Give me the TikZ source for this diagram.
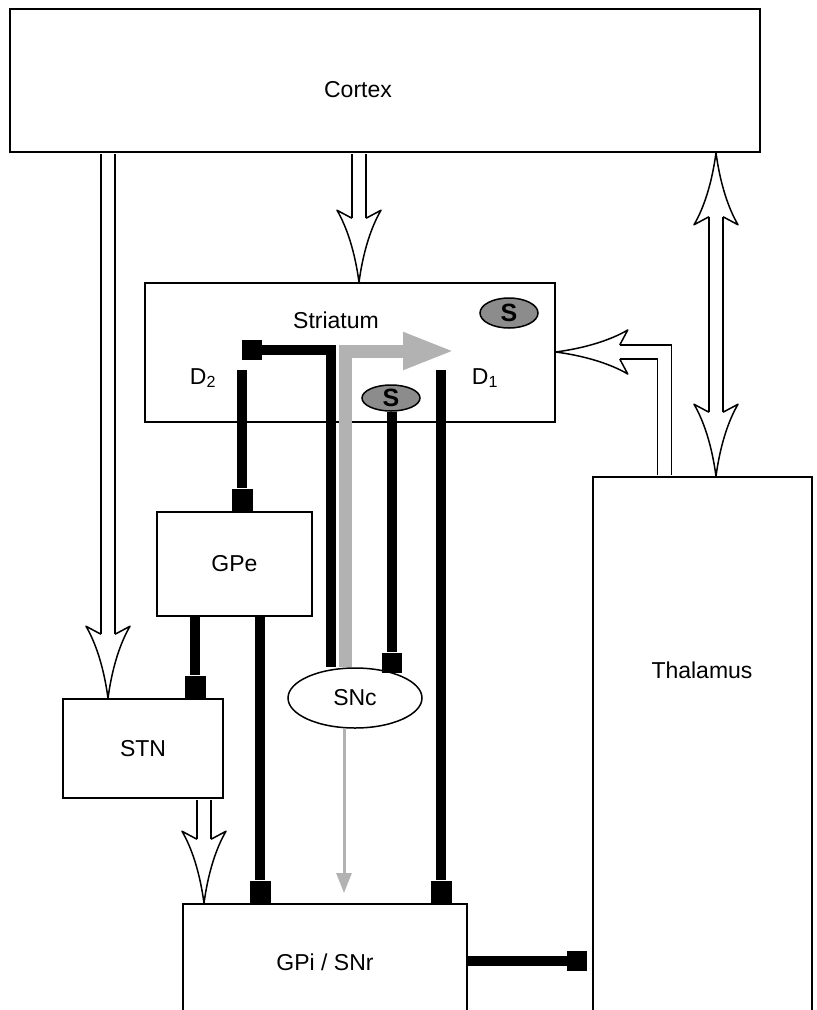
\documentclass[tikz,border=0pt]{standalone}
\usepackage{fontspec}
\setmainfont{Liberation Sans}
\usetikzlibrary{shapes.geometric,arrows.meta}

\begin{document}
\begin{tikzpicture}[x=1pt,y=-1pt,line width=1.5pt]
  \tikzstyle{box}=[draw,inner sep=0pt,font=\fontsize{23}{27}\selectfont]
  \tikzstyle{lbl}=[inner sep=0pt,font=\fontsize{23}{27}\selectfont]
  \tikzstyle{syn}=[draw,ellipse,fill=black!45,inner sep=0pt,minimum width=58pt,
    font=\fontsize{25}{30}\selectfont\bfseries]
  \tikzstyle{term}=[fill,inner sep=0pt,minimum width=21pt,minimum height=22pt]
  \tikzstyle{bar}=[line width=9.5pt]
  \tikzstyle{hollow}=[draw,line width=1.5pt,double=white,double distance=12.5pt,
    shorten <=1pt,shorten >=64pt]
  \tikzstyle{dopa}=[draw=black!30,line width=13pt]
  \tikzset{hhead/.pic={
    \fill[white] (0,0) .. controls (-30,4) and (-55,12) .. (-72,22) -- (-64,7)
      -- (-64,-7) -- (-72,-22) .. controls (-55,-12) and (-30,-4) .. (0,0) -- cycle;
    \draw[line join=round] (-64,7) -- (-72,22) .. controls (-55,12) and (-30,4) .. (0,0)
      .. controls (-30,-4) and (-55,-12) .. (-72,-22) -- (-64,-7);
  }}
  \useasboundingbox (0,0) rectangle (817,1010);
  \clip (0,0) rectangle (817,1010);

  % boxes
  \node[box,minimum width=750pt,minimum height=143pt] (cortex) at (385,80.5) {};
  \node[lbl] (cortexlbl) at (358,90) {Cortex};
  \node[box,minimum width=410pt,minimum height=139pt] (striatum) at (350,352.5) {};
  \node[lbl] (striatumlbl) at (336,320) {Striatum};
  \node[lbl] (d2lbl) at (203,378) {D\textsubscript{2}};
  \node[lbl] (d1lbl) at (485,378) {D\textsubscript{1}};
  \node[syn,minimum height=30pt] (s1) at (509,313) {S};
  \node[syn,minimum height=26pt] (s2) at (391,398) {S};
  \node[box,minimum width=155pt,minimum height=104pt] (gpe) at (234.5,564) {GPe};
  \node[box,minimum width=160pt,minimum height=99pt] (stn) at (143,748.5) {STN};
  \node[box,ellipse,minimum width=134pt,minimum height=60pt] (snc) at (355,698) {SNc};
  \node[box,minimum width=284pt,minimum height=116pt] (gpi) at (325,962) {GPi / SNr};
  \node[box,minimum width=219pt,minimum height=543pt] (thal) at (702.5,748.5) {};
  \node[lbl] (thallbl) at (702,670) {Thalamus};

  % dopamine
  \coordinate (datip) at (455,351);
  \coordinate (dbtip) at (344,893);
  \draw[dopa,line join=miter,-{Triangle[length=52pt,width=34pt]}]
    ([xshift=-10]snc.north) |- (datip);
  \draw[draw=black!30,line width=3pt,-{Triangle[length=20pt,width=15pt]}]
    ([xshift=-11]snc.south) -- (dbtip);

  % inhibitory
  \coordinate (d2end) at (242,370);
  \coordinate (d1end) at (441,370);
  \node[term,anchor=south] (tgpe) at ([xshift=7.5]gpe.north) {};
  \node[term,anchor=south] (tstn) at ([xshift=52]stn.north) {};
  \node[term,anchor=south] (tgpi1) at ([xshift=-65]gpi.north) {};
  \node[term,anchor=south] (tgpi2) at ([xshift=116]gpi.north) {};
  \node[term,minimum height=20pt,minimum width=20pt] (tstr) at (252,350) {};
  \node[term,anchor=south,minimum width=20pt,minimum height=20pt] (tsnc)
    at ([xshift=37,yshift=-6]snc.north) {};
  \node[term,anchor=east,minimum width=20pt,minimum height=20pt] (tthal) at (588,961) {};
  \draw[bar] (tgpe.north) -- (d2end);
  \draw[bar] (tstn.north) -- (tstn.north |- gpe.south);
  \draw[bar] (tgpi1.north) -- (tgpi1.north |- gpe.south);
  \draw[bar] (tgpi2.north) -- (d1end);
  \draw[bar,line join=miter] (tstr.center) -| ([xshift=-24]snc.north);
  \draw[bar] (tsnc.north) -- (tsnc.north |- s2.south);
  \draw[bar] (gpi.east |- tthal) -- (tthal);

  % excitatory
  \coordinate (stnin) at ([xshift=-35]stn.north);
  \coordinate (strin) at ([xshift=9]striatum.north);
  \coordinate (thin) at ([xshift=13.5]thal.north);
  \coordinate (thout) at ([xshift=-38]thal.north);
  \coordinate (strin2) at ([yshift=0.5]striatum.east);
  \coordinate (gpiin) at ([xshift=-121]gpi.north);
  \draw[hollow] (cortex.south -| stnin) -- (stnin);
  \pic[rotate=-90] at (stnin) {hhead};
  \draw[hollow] (cortex.south -| strin) -- (strin);
  \pic[rotate=-90] at (strin) {hhead};
  \draw[hollow,shorten <=64pt] (cortex.south -| thin) -- (thin);
  \pic[rotate=-90] at (thin) {hhead};
  \pic[rotate=90] at (cortex.south -| thin) {hhead};
  \draw[hollow,line join=miter] (thout) |- (strin2);
  \pic[rotate=180] at (strin2) {hhead};
  \draw[hollow] (stn.south -| gpiin) -- (gpiin);
  \pic[rotate=-90] at (gpiin) {hhead};
\end{tikzpicture}
\end{document}
